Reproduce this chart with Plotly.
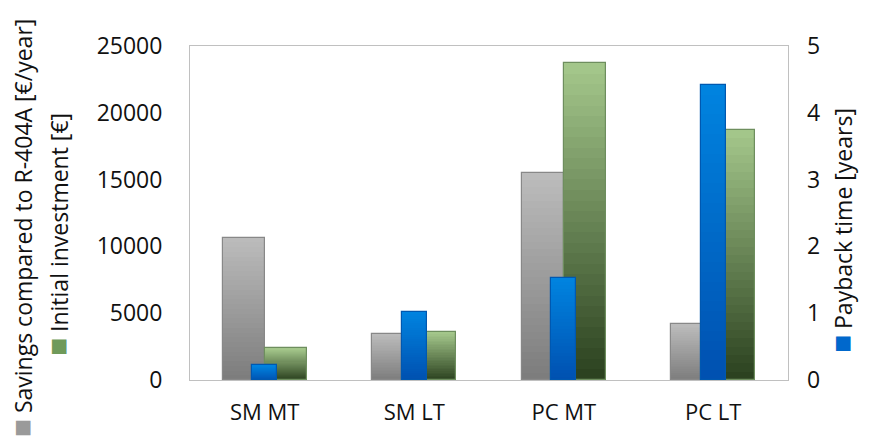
import plotly.graph_objects as go

categories = ["SM MT", "SM LT", "PC MT", "PC LT"]
savings = [10650, 3470, 15470, 4170]          # €/year, left axis
investment = [2370, 3590, 23700, 18710]       # €, left axis
payback = [0.22, 1.02, 1.52, 4.42]            # years, right axis
left_ticks = [0, 5000, 10000, 15000, 20000, 25000]
right_ticks = [0, 1, 2, 3, 4, 5]

FONT = "Open Sans"
N = 30  # gradient steps


def lerp(c1, c2, t):
    return "rgb(%d,%d,%d)" % tuple(round(a + (b - a) * t) for a, b in zip(c1, c2))


x = list(range(len(categories)))
fig = go.Figure()


def gradient_bar(values, top, bottom, outline, offset, width, yaxis):
    for k in range(N):
        frac = (k + 0.5) / N
        fig.add_trace(go.Bar(
            x=x, y=[v / N for v in values], base=[v * k / N for v in values],
            offset=offset, width=width, yaxis=yaxis,
            marker=dict(color=lerp(bottom, top, frac), line=dict(width=0)),
            showlegend=False, hoverinfo="skip"))
    fig.add_trace(go.Bar(
        x=x, y=values, offset=offset, width=width, yaxis=yaxis,
        marker=dict(color="rgba(0,0,0,0)", line=dict(width=1.2, color=outline)),
        showlegend=False))


gradient_bar(savings, (188, 188, 188), (124, 124, 124), "#888888", -0.28, 0.28, "y")
gradient_bar(investment, (165, 200, 140), (42, 64, 30), "#6e8e5e", 0.0, 0.28, "y")
gradient_bar(payback, (0, 132, 224), (0, 80, 176), "#0058b0", -0.082, 0.164, "y2")

fig.update_layout(
    width=869, height=437,
    margin=dict(l=190, r=81, t=46, b=57),
    barmode="overlay", bargap=0,
    paper_bgcolor="white", plot_bgcolor="white",
    font=dict(family=FONT, size=22, color="#111111"),
    xaxis=dict(range=[-0.5, 3.5], tickvals=x, ticktext=categories,
               showgrid=False, zeroline=False, ticks="",
               showline=True, linecolor="#c0c0c0", mirror=True,
               ticklabelstandoff=13, tickfont=dict(size=22)),
    yaxis=dict(range=[0, 25000], tickvals=left_ticks,
               ticktext=[str(v) for v in left_ticks],
               showgrid=False, zeroline=False, ticks="",
               showline=True, linecolor="#c0c0c0", mirror=True,
               ticklabelstandoff=22, tickfont=dict(size=23)),
    yaxis2=dict(range=[0, 5], tickvals=right_ticks, overlaying="y", side="right",
                showgrid=False, zeroline=False, ticks="", showline=False,
                ticklabelstandoff=18, tickfont=dict(size=23)),
)

SQ = "<span style='color:%s;font-size:30px'>■</span> "
fig.add_annotation(
    text=SQ % "#9a9a9a" + "Savings compared to R-404A [€/year]",
    xref="paper", yref="paper", x=-0.284, y=0.455, textangle=-90,
    showarrow=False, font=dict(size=23), xanchor="center", yanchor="middle")
fig.add_annotation(
    text=SQ % "#6f9a5a" + "Initial investment [€]",
    xref="paper", yref="paper", x=-0.224, y=0.434, textangle=-90,
    showarrow=False, font=dict(size=23), xanchor="center", yanchor="middle")
fig.add_annotation(
    text=SQ % "#0068cc" + "Payback time [years]",
    xref="paper", yref="paper", x=1.087, y=0.446, textangle=-90,
    showarrow=False, font=dict(size=23), xanchor="center", yanchor="middle")

fig.write_html("out.html")
